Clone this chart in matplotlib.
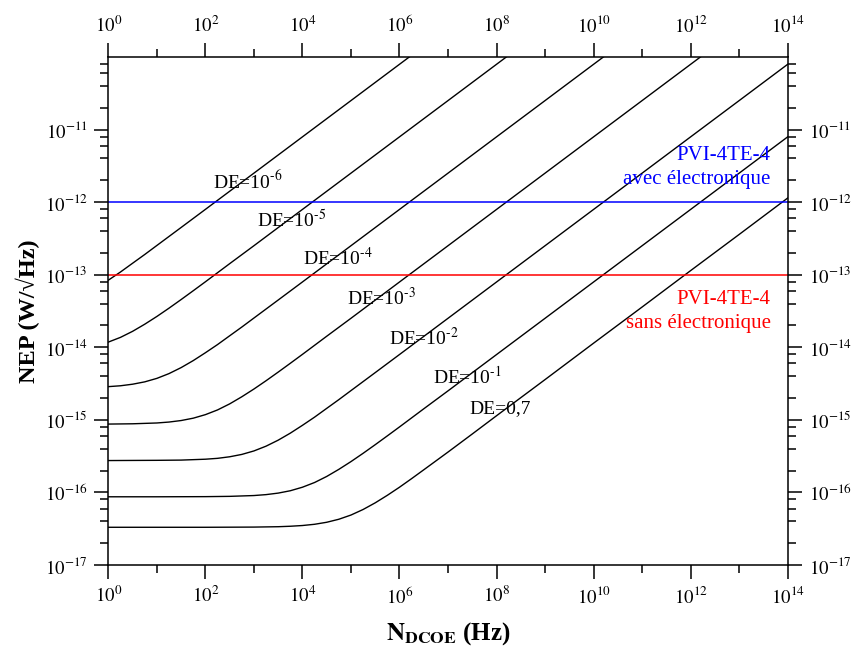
import matplotlib
matplotlib.use("Agg")
import matplotlib.pyplot as plt
import numpy as np
from matplotlib.ticker import FixedLocator, FuncFormatter, NullFormatter

plt.rcParams["font.family"] = ["Liberation Serif", "DejaVu Serif"]
plt.rcParams["mathtext.fontset"] = "stix"

# readings along each curve: log10(N_DCOE / Hz) and NEP (W/sqrt(Hz))
LOGN_DE_07 = [0, 1, 2, 3, 3.5, 3.75, 4, 4.25, 4.5, 4.75, 5, 5.25, 5.5, 5.75, 6,
              6.25, 6.5, 7, 7.5, 8, 9, 10, 11, 12, 13, 14]
NEP_DE_07 = [3.31e-17, 3.31e-17, 3.31e-17, 3.33e-17, 3.37e-17, 3.42e-17, 3.50e-17,
             3.64e-17, 3.88e-17, 4.27e-17, 4.88e-17, 5.82e-17, 7.19e-17, 9.13e-17,
             1.18e-16, 1.55e-16, 2.05e-16, 3.60e-16, 6.39e-16, 1.14e-15, 3.59e-15,
             1.14e-14, 3.59e-14, 1.14e-13, 3.59e-13, 1.14e-12]

LOGN_DE_1 = [0, 1, 2, 2.5, 3, 3.25, 3.5, 3.75, 4, 4.25, 4.5, 4.75, 5, 5.25, 5.5,
             5.75, 6, 6.5, 7, 8, 9, 10, 11, 12, 13, 14]
NEP_DE_1 = [8.71e-17, 8.71e-17, 8.75e-17, 8.83e-17, 9.06e-17, 9.33e-17, 9.79e-17,
            1.055e-16, 1.18e-16, 1.37e-16, 1.66e-16, 2.08e-16, 2.66e-16, 3.46e-16,
            4.55e-16, 6.02e-16, 7.99e-16, 1.42e-15, 2.51e-15, 7.94e-15, 2.51e-14,
            7.94e-14, 2.51e-13, 7.94e-13, 2.51e-12, 7.94e-12]

LOGN_DE_2 = [0, 1, 1.5, 2, 2.25, 2.5, 2.75, 3, 3.25, 3.5, 3.75, 4, 4.25, 4.5, 4.75,
             5, 5.5, 6, 7, 8, 9, 10, 11, 12, 13, 14]
NEP_DE_2 = [2.75e-16, 2.77e-16, 2.79e-16, 2.87e-16, 2.95e-16, 3.10e-16, 3.34e-16,
            3.73e-16, 4.34e-16, 5.25e-16, 6.56e-16, 8.41e-16, 1.09e-15, 1.44e-15,
            1.90e-15, 2.53e-15, 4.48e-15, 7.95e-15, 2.51e-14, 7.94e-14, 2.51e-13,
            7.94e-13, 2.51e-12, 7.94e-12, 2.51e-11, 7.94e-11]

LOGN_DE_3 = [0, 0.5, 1, 1.25, 1.5, 1.75, 2, 2.25, 2.5, 2.75, 3, 3.25, 3.5, 3.75, 4,
             4.5, 5, 6, 7, 8, 9, 10, 11, 12, 12.5]
NEP_DE_3 = [8.75e-16, 8.83e-16, 9.06e-16, 9.33e-16, 9.79e-16, 1.055e-15, 1.18e-15,
            1.37e-15, 1.66e-15, 2.08e-15, 2.66e-15, 3.46e-15, 4.55e-15, 6.02e-15,
            7.99e-15, 1.42e-14, 2.51e-14, 7.94e-14, 2.51e-13, 7.94e-13, 2.51e-12,
            7.94e-12, 2.51e-11, 7.94e-11, 1.41e-10]

LOGN_DE_4 = [0, 0.25, 0.5, 0.75, 1, 1.25, 1.5, 1.75, 2, 2.25, 2.5, 2.75, 3, 3.5, 4,
             5, 6, 7, 8, 9, 10, 10.5]
NEP_DE_4 = [2.87e-15, 2.95e-15, 3.10e-15, 3.34e-15, 3.73e-15, 4.34e-15, 5.25e-15,
            6.56e-15, 8.41e-15, 1.09e-14, 1.44e-14, 1.90e-14, 2.53e-14, 4.48e-14,
            7.95e-14, 2.51e-13, 7.94e-13, 2.51e-12, 7.94e-12, 2.51e-11, 7.94e-11,
            1.41e-10]

LOGN_DE_5 = [0, 0.25, 0.5, 0.75, 1, 1.25, 1.5, 1.75, 2, 2.5, 3, 4, 5, 6, 7, 8, 8.5]
NEP_DE_5 = [1.18e-14, 1.37e-14, 1.66e-14, 2.08e-14, 2.66e-14, 3.46e-14, 4.55e-14,
            6.02e-14, 7.99e-14, 1.42e-13, 2.51e-13, 7.94e-13, 2.51e-12, 7.94e-12,
            2.51e-11, 7.94e-11, 1.41e-10]

LOGN_DE_6 = [0, 0.25, 0.5, 0.75, 1, 1.5, 2, 3, 4, 5, 6, 6.5]
NEP_DE_6 = [8.41e-14, 1.09e-13, 1.44e-13, 1.90e-13, 2.53e-13, 4.48e-13, 7.95e-13,
            2.51e-12, 7.94e-12, 2.51e-11, 7.94e-11, 1.41e-10]

CURVES = [(LOGN_DE_07, NEP_DE_07), (LOGN_DE_1, NEP_DE_1), (LOGN_DE_2, NEP_DE_2),
          (LOGN_DE_3, NEP_DE_3), (LOGN_DE_4, NEP_DE_4), (LOGN_DE_5, NEP_DE_5),
          (LOGN_DE_6, NEP_DE_6)]
CURVE_LABELS = [r"DE=0,7", r"DE=10$^{\text{-1}}$", r"DE=10$^{\text{-2}}$",
                r"DE=10$^{\text{-3}}$", r"DE=10$^{\text{-4}}$", r"DE=10$^{\text{-5}}$",
                r"DE=10$^{\text{-6}}$"]
# label anchor (log10 N, log10 NEP)
LABEL_POS = [(7.45, -14.85), (6.69, -14.41), (5.78, -13.87), (4.92, -13.32),
             (4.01, -12.77), (3.06, -12.25), (2.16, -11.71)]

NEP_WITH_ELEC = 1e-12
NEP_WITHOUT_ELEC = 1e-13

fig = plt.figure(figsize=(8.51, 6.51), dpi=100)
ax = fig.add_axes([0.1273, 0.1321, 0.7983, 0.7803])

for (logn, values), label, (lx, ly) in zip(CURVES, CURVE_LABELS, LABEL_POS):
    ax.plot(10 ** np.array(logn), values, color="black", linewidth=1.0)
    ax.text(10 ** lx, 10 ** ly, label, fontsize=14, ha="left", va="center")

ax.axhline(NEP_WITH_ELEC, color="#0000ff", linewidth=1.1)
ax.axhline(NEP_WITHOUT_ELEC, color="#ff0000", linewidth=1.1)

ax.text(0.975, 0.807, "PVI-4TE-4", color="#0000ff", fontsize=15,
        ha="right", va="center", transform=ax.transAxes)
ax.text(0.975, 0.758, "avec électronique", color="#0000ff", fontsize=15,
        ha="right", va="center", transform=ax.transAxes)
ax.text(0.975, 0.522, "PVI-4TE-4", color="#ff0000", fontsize=15,
        ha="right", va="center", transform=ax.transAxes)
ax.text(0.975, 0.476, "sans électronique", color="#ff0000", fontsize=15,
        ha="right", va="center", transform=ax.transAxes)

ax.set_xscale("log")
ax.set_yscale("log")
ax.set_xlim(1, 1e14)
ax.set_ylim(1e-17, 1e-10)

fmt = FuncFormatter(lambda v, p: r"$10^{%d}$" % int(round(np.log10(v))))
ax.xaxis.set_major_locator(FixedLocator([10.0 ** k for k in range(0, 15, 2)]))
ax.xaxis.set_minor_locator(FixedLocator([10.0 ** k for k in range(1, 15, 2)]))
ax.yaxis.set_major_locator(FixedLocator([10.0 ** k for k in range(-17, -10)]))
ax.yaxis.set_minor_locator(FixedLocator([m * 10.0 ** k for k in range(-17, -10)
                                         for m in (2, 4, 6, 8)]))
ax.xaxis.set_major_formatter(fmt)
ax.yaxis.set_major_formatter(fmt)
ax.xaxis.set_minor_formatter(NullFormatter())
ax.yaxis.set_minor_formatter(NullFormatter())

ax.tick_params(which="both", direction="out", top=True, right=True,
               labeltop=True, labelright=True, width=1.1, labelsize=13.5, pad=5)
ax.tick_params(which="major", length=10)
ax.tick_params(which="minor", length=6)
for spine in ax.spines.values():
    spine.set_linewidth(1.1)

ax.set_xlabel(r"$\mathbf{N}_{\mathbf{DCOE}}$ (Hz)", fontsize=18, fontweight="bold",
              labelpad=9)
ax.set_ylabel("NEP (W/√Hz)", fontsize=17.5, fontweight="bold", labelpad=3)

fig.savefig("out.png", dpi=100)
